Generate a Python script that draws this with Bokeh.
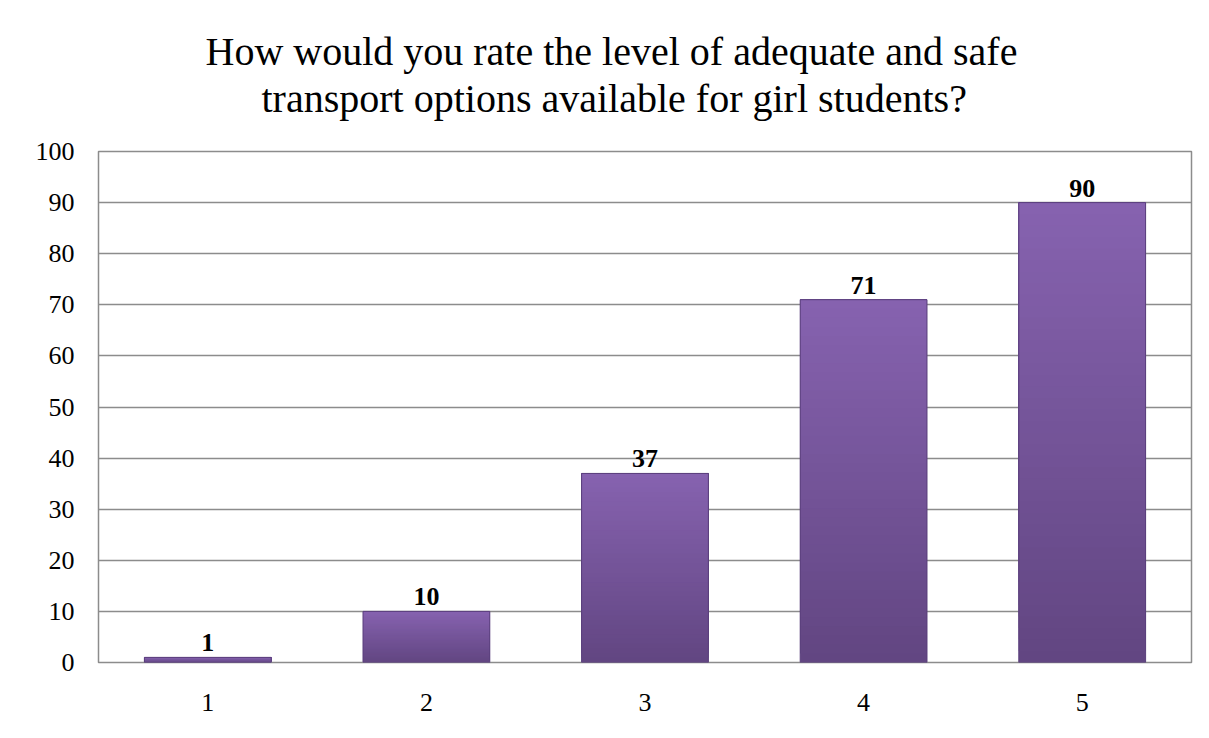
from bokeh.plotting import figure
from bokeh.models import ColumnDataSource, LabelSet, FixedTicker, Title
from bokeh.embed import file_html
from bokeh.resources import INLINE

categories = ["1", "2", "3", "4", "5"]
values = [1, 10, 37, 71, 90]
y_ticks = [0, 10, 20, 30, 40, 50, 60, 70, 80, 90, 100]
title_line1 = "How would you rate the level of adequate and safe"
title_line2 = "transport options available for girl students?"

FONT = "Liberation Serif"
BAR_W = 0.58
TOP_RGB = (0x86, 0x62, 0xAF)
BOT_RGB = (0x62, 0x46, 0x82)
N_SLICES = 40

# gradient: overlapping slices computed from the data values (each from its start up to the bar top)
gx, gb, gt, gc = [], [], [], []
for k in range(N_SLICES):
    f = k / (N_SLICES - 1)
    rgb = tuple(int(round(b + (t - b) * f)) for b, t in zip(BOT_RGB, TOP_RGB))
    for c, v in zip(categories, values):
        gx.append(c)
        gb.append(v * k / N_SLICES)
        gt.append(v)
        gc.append("#%02x%02x%02x" % rgb)
grad = ColumnDataSource(dict(x=gx, bottom=gb, top=gt, color=gc))

src = ColumnDataSource(dict(cat=categories, val=values, lab=[str(v) for v in values]))

p = figure(x_range=categories, y_range=(0, 100), width=1201, height=730,
           output_backend="svg", toolbar_location=None,
           min_border_left=98, min_border_right=10, min_border_top=151, min_border_bottom=68)

p.title.text = title_line1
spacer = Title(text=" ", text_font_size="10px", standoff=18)
sub = Title(text=title_line2)
p.add_layout(spacer, "above")
p.add_layout(sub, "above")
for t in (p.title, sub):
    t.align = "left"
    t.text_font = FONT
    t.text_font_size = "40px"
    t.text_font_style = "normal"
    t.text_color = "#000000"
    t.standoff = 0
p.title.offset = 107
sub.offset = 163

p.vbar(x="x", bottom="bottom", top="top", width=BAR_W, source=grad,
       fill_color="color", line_color=None)
p.vbar(x="cat", top="val", width=BAR_W, source=src,
       fill_color=None, line_color="#5A3F7C", line_width=1)

labels = LabelSet(x="cat", y="val", text="lab", source=src, y_offset=6,
                  text_align="center", text_baseline="bottom",
                  text_font=FONT, text_font_size="26px", text_font_style="bold",
                  text_color="#000000")
p.add_layout(labels)

p.yaxis.ticker = FixedTicker(ticks=y_ticks)
for ax in (p.xaxis, p.yaxis):
    ax.major_label_text_font = FONT
    ax.major_label_text_font_size = "26px"
    ax.major_label_text_color = "#000000"
    ax.axis_line_color = None
    ax.major_tick_line_color = None
    ax.minor_tick_line_color = None
p.yaxis.major_label_standoff = 18
p.xaxis.major_label_standoff = 25

p.xgrid.grid_line_color = None
p.ygrid.grid_line_color = "#8C8C8C"
p.ygrid.grid_line_width = 1.5
p.outline_line_color = "#8C8C8C"
p.outline_line_width = 1.5
p.x_range.range_padding = 0.0

open("out.html", "w").write(file_html(p, INLINE))
